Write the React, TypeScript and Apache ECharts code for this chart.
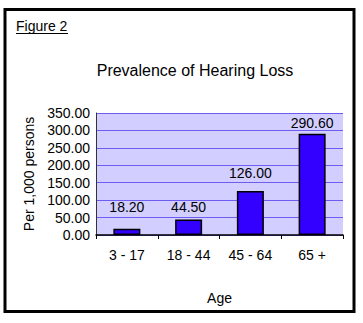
import React, { useEffect, useRef } from "react";
import * as echarts from "echarts";

const categories = ["3 - 17", "18 - 44", "45 - 64", "65 +"];
const values = [18.2, 44.5, 126.0, 290.6];
const labelGaps = [15, 5, 11, 4];
const yTicks = { min: 0, max: 350, interval: 50 };
const titleText = "Prevalence of Hearing Loss";
const figureText = "Figure 2";
const yName = "Per 1,000 persons";
const xName = "Age";

const FONT = "Arial, 'Liberation Sans', sans-serif";

export default function App() {
  const ref = useRef<HTMLDivElement>(null);
  useEffect(() => {
    document.body.style.margin = "0";
    const chart = echarts.init(ref.current!, undefined, { renderer: "svg" });
    chart.setOption({
      animation: false,
      backgroundColor: "#ffffff",
      textStyle: { fontFamily: FONT },
      title: {
        text: titleText,
        left: 190,
        top: 57,
        textAlign: "center",
        textStyle: { fontSize: 16, fontWeight: "normal", color: "#000", fontFamily: FONT },
      },
      graphic: [
        {
          type: "rect",
          shape: { x: 5, y: 9.5, width: 349, height: 302 },
          style: { fill: "none", stroke: "#000", lineWidth: 3 },
          silent: true,
        },
        {
          type: "text",
          x: 16,
          y: 19,
          style: { text: figureText, fontSize: 14, fill: "#000", fontFamily: FONT },
        },
        {
          type: "line",
          shape: { x1: 16, y1: 33.5, x2: 68, y2: 33.5 },
          style: { stroke: "#000", lineWidth: 1 },
        },
      ],
      grid: { left: 96, right: 20, top: 113, bottom: 88, containLabel: false,
        show: true, backgroundColor: "#D2CEFF", borderWidth: 0 },
      xAxis: {
        type: "category",
        data: categories,
        name: xName,
        nameLocation: "middle",
        nameGap: 56,
        nameTextStyle: { fontSize: 14, color: "#000", fontFamily: FONT },
        axisLine: { lineStyle: { color: "#000", width: 1.5 } },
        axisTick: { show: true, length: 4, lineStyle: { color: "#000" } },
        axisLabel: { fontSize: 14, color: "#000", margin: 13, fontFamily: FONT },
      },
      yAxis: {
        type: "value",
        min: yTicks.min,
        max: yTicks.max,
        interval: yTicks.interval,
        name: yName,
        nameLocation: "middle",
        nameGap: 48,
        nameTextStyle: { fontSize: 14, color: "#000", fontFamily: FONT },
        axisLine: { show: true, lineStyle: { color: "#333", width: 1 } },
        axisTick: { show: false },
        axisLabel: {
          fontSize: 14,
          color: "#000",
          margin: 6,
          fontFamily: FONT,
          formatter: (v: number) => v.toFixed(2),
        },
        splitLine: { show: true, lineStyle: { color: "#6E5CF0", width: 1.2 } },
      },
      series: [
        {
          type: "bar",
          barWidth: 27,
          data: values.map((v, i) => ({
            value: v,
            label: { distance: labelGaps[i] },
          })),
          itemStyle: { color: "#3300FF", borderColor: "#000", borderWidth: 1.5 },
          label: {
            show: true,
            position: "top",
            fontSize: 14,
            color: "#000",
            fontFamily: FONT,
            formatter: (p: any) => Number(p.value).toFixed(2),
          },
        },
      ],
    });
    return () => chart.dispose();
  }, []);
  return <div ref={ref} style={{ width: 363, height: 323 }} />;
}
